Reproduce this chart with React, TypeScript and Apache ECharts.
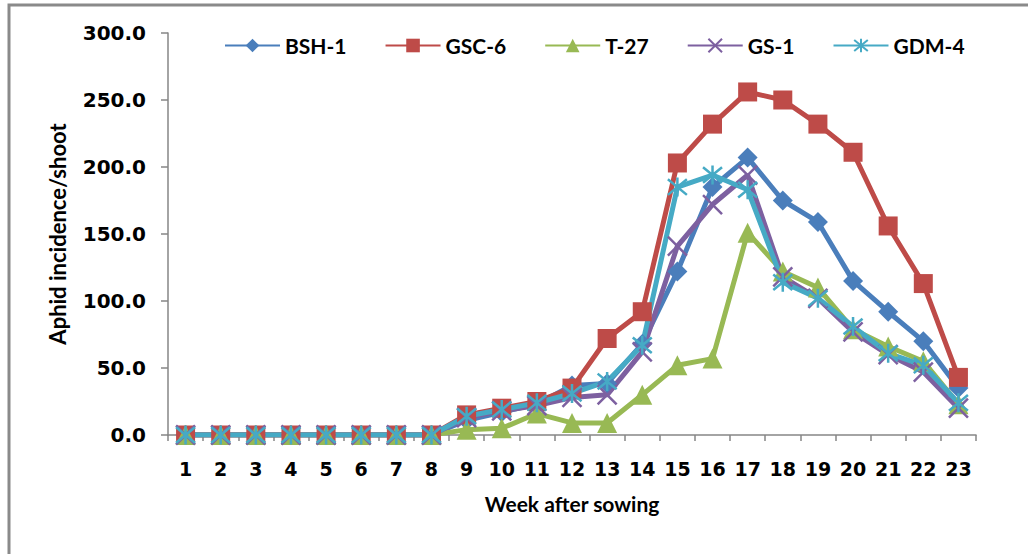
import React, { useEffect, useRef } from "react";
import * as echarts from "echarts";

const weeks = ["1","2","3","4","5","6","7","8","9","10","11","12","13","14","15","16","17","18","19","20","21","22","23"];
const bsh1 = [0,0,0,0,0,0,0,0,11,17,23,37,38.5,68,122,185,207,175,159,115,92,70,35];
const gsc6 = [0,0,0,0,0,0,0,0,15,20,25,35,72,92,203,232,256,250,232,211,156,113,43];
const t27 = [0,0,0,0,0,0,0,0,4,5,16,9,9,30,52,57,151,122,110,79,66,55,23];
const gs1 = [0,0,0,0,0,0,0,0,13,18,22,28,30,62,141,172,194,118,102,77,60,47,20];
const gdm4 = [0,0,0,0,0,0,0,0,14,19,24,31,40,67,185,194,183,114,102,81,61,52,24];
const seriesNames = ["BSH-1", "GSC-6", "T-27", "GS-1", "GDM-4"];
const yTicks = { min: 0, max: 300, interval: 50 };

const X_SYMBOL = "path://M0,0L18,18M18,0L0,18";
const STAR_SYMBOL = "path://M0,0L18,18M18,0L0,18M9,-2L9,20";

export default function App() {
  const ref = useRef<HTMLDivElement>(null);
  useEffect(() => {
    document.body.style.margin = "0";
    const chart = echarts.init(ref.current!, null, { renderer: "svg" });
    const colors = ["#4a7ebb", "#be4b48", "#98b954", "#7d60a0", "#46aac5"];
    const datasets = [bsh1, gsc6, t27, gs1, gdm4];
    const symbols = ["diamond", "rect", "triangle", X_SYMBOL, STAR_SYMBOL];
    const sizes = [20, 19, 20, 19, 19];
    const series = datasets.map((d, i) => ({
      name: seriesNames[i],
      type: "line",
      data: d,
      symbol: symbols[i],
      symbolSize: sizes[i],
      showAllSymbol: true,
      lineStyle: { width: 5, color: colors[i] },
      itemStyle: {
        color: colors[i],
        borderColor: colors[i],
        borderWidth: i >= 3 ? 2.5 : 0,
      },
      emphasis: { disabled: true },
    }));
    chart.setOption({
      animation: false,
      color: colors,
      graphic: [
        {
          type: "rect",
          shape: { x: 9, y: 5, width: 1200, height: 700 },
          style: { fill: "none", stroke: "#8a8a8a", lineWidth: 3 },
          silent: true,
        },
      ],
      legend: {
        left: 219,
        top: 30,
        itemWidth: 55,
        itemHeight: 17,
        itemGap: 38,
        textStyle: { fontFamily: "Lato", fontWeight: "bold", fontSize: 21, color: "#000" },
        data: seriesNames,
      },
      grid: { left: 168, right: 52, top: 33, bottom: 119, containLabel: false },
      xAxis: {
        type: "category",
        data: weeks,
        boundaryGap: true,
        name: "Week after sowing",
        nameLocation: "middle",
        nameGap: 58,
        nameTextStyle: { fontFamily: "Lato", fontWeight: "bold", fontSize: 21, color: "#000" },
        axisLine: { lineStyle: { color: "#868686", width: 1.5 } },
        axisTick: { show: true, length: 6, alignWithLabel: false, lineStyle: { color: "#868686", width: 1.5 } },
        axisLabel: { fontFamily: "DejaVu Sans", fontWeight: "bold", fontSize: 19, color: "#000", margin: 24, interval: 0 },
        splitLine: { show: false },
      },
      yAxis: {
        type: "value",
        min: yTicks.min,
        max: yTicks.max,
        interval: yTicks.interval,
        name: "Aphid incidence/shoot",
        nameLocation: "middle",
        nameGap: 100,
        nameTextStyle: { fontFamily: "Lato", fontWeight: "bold", fontSize: 22, color: "#000" },
        axisLine: { show: true, lineStyle: { color: "#868686", width: 1.5 } },
        axisTick: { show: true, length: 7, lineStyle: { color: "#868686", width: 1.5 } },
        axisLabel: {
          fontFamily: "DejaVu Sans",
          fontWeight: "bold",
          fontSize: 20,
          color: "#000",
          margin: 22,
          formatter: (v: number) => v.toFixed(1),
        },
        splitLine: { show: false },
      },
      series,
    });
    return () => chart.dispose();
  }, []);
  return <div ref={ref} style={{ width: 1028, height: 554, overflow: "hidden" }} />;
}
